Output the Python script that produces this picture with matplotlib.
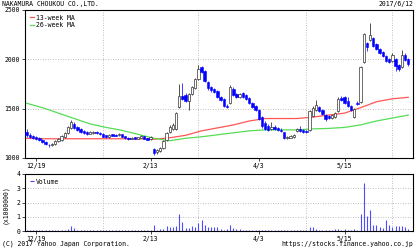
import numpy as np
import matplotlib
matplotlib.use("Agg")
import matplotlib.pyplot as plt

# daily candles, values (yen)
opens = [1260, 1235, 1225, 1215, 1205, 1185, 1165, 1135, 1130, 1140,
         1170, 1185, 1210, 1250, 1300, 1345, 1310, 1290, 1275, 1265,
         1245, 1250, 1265, 1255, 1245, 1230, 1210, 1240, 1235, 1230,
         1240, 1220, 1205, 1195, 1210, 1195, 1205, 1220, 1200, 1190,
         1090, 1060, 1070, 1100, 1180, 1260, 1290, 1290, 1520, 1630,
         1640, 1580, 1650, 1710, 1800, 1920, 1880, 1770, 1720, 1700,
         1680, 1620, 1600, 1530, 1560, 1700, 1650, 1620, 1660, 1640,
         1610, 1560, 1530, 1490, 1420, 1350, 1320, 1290, 1310, 1300,
         1285, 1260, 1200, 1205, 1215, 1270, 1290, 1280, 1275, 1280,
         1430, 1490, 1520, 1490, 1440, 1430, 1410, 1420, 1480, 1610,
         1620, 1580, 1530, 1420, 1560, 1570, 1970, 2170, 2200, 2220,
         2160, 2100, 2070, 2030, 2000, 1980, 2000, 1940, 1920, 2040,
         2000]
highs = [1290, 1250, 1235, 1225, 1210, 1190, 1170, 1145, 1150, 1185,
         1200, 1230, 1260, 1320, 1390, 1365, 1320, 1300, 1280, 1270,
         1270, 1275, 1275, 1265, 1250, 1235, 1240, 1245, 1240, 1250,
         1245, 1225, 1210, 1215, 1215, 1215, 1230, 1225, 1205, 1225,
         1100, 1090, 1110, 1180, 1265, 1335, 1355, 1470, 1750, 1760,
         1660, 1660, 1730, 1810, 1945, 1935, 1890, 1780, 1730, 1710,
         1690, 1630, 1610, 1545, 1740, 1720, 1660, 1660, 1670, 1650,
         1620, 1570, 1540, 1500, 1430, 1370, 1340, 1360, 1330, 1310,
         1300, 1265, 1225, 1235, 1240, 1300, 1320, 1290, 1285, 1490,
         1530, 1590, 1530, 1500, 1450, 1440, 1450, 1470, 1620, 1630,
         1630, 1620, 1540, 1510, 1580, 1930, 2270, 2180, 2370, 2230,
         2170, 2110, 2080, 2040, 2010, 2060, 2010, 1950, 2090, 2060,
         2010]
lows = [1215, 1205, 1195, 1185, 1170, 1150, 1130, 1115, 1120, 1135,
        1160, 1175, 1200, 1240, 1290, 1295, 1270, 1255, 1245, 1235,
        1240, 1240, 1245, 1230, 1210, 1200, 1205, 1220, 1220, 1225,
        1210, 1190, 1185, 1190, 1190, 1190, 1200, 1190, 1180, 1180,
        1030, 1045, 1060, 1090, 1175, 1250, 1280, 1280, 1510, 1590,
        1570, 1490, 1640, 1700, 1790, 1860, 1770, 1690, 1670, 1660,
        1610, 1580, 1515, 1505, 1550, 1630, 1610, 1610, 1610, 1590,
        1550, 1510, 1480, 1390, 1300, 1280, 1270, 1280, 1280, 1270,
        1260, 1190, 1195, 1200, 1205, 1265, 1260, 1255, 1255, 1270,
        1420, 1480, 1470, 1440, 1370, 1400, 1400, 1410, 1470, 1580,
        1550, 1520, 1480, 1410, 1540, 1560, 1960, 2080, 2190, 2120,
        2090, 2050, 2020, 1970, 1960, 1970, 1880, 1880, 1910, 1980,
        1930]
closes = [1230, 1215, 1205, 1195, 1180, 1160, 1140, 1130, 1140, 1175,
          1190, 1220, 1250, 1310, 1360, 1305, 1280, 1265, 1255, 1245,
          1260, 1265, 1250, 1240, 1215, 1210, 1230, 1225, 1228, 1242,
          1215, 1200, 1195, 1205, 1195, 1210, 1220, 1195, 1185, 1215,
          1055, 1080, 1100, 1170, 1250, 1310, 1330, 1460, 1630, 1600,
          1580, 1650, 1720, 1800, 1900, 1870, 1780, 1710, 1690, 1670,
          1620, 1590, 1530, 1520, 1720, 1640, 1620, 1650, 1620, 1600,
          1560, 1520, 1490, 1400, 1320, 1290, 1280, 1310, 1290, 1280,
          1270, 1200, 1215, 1225, 1230, 1290, 1270, 1265, 1260, 1480,
          1510, 1540, 1480, 1450, 1400, 1410, 1440, 1460, 1600, 1590,
          1560, 1530, 1490, 1500, 1550, 1920, 2260, 2130, 2250, 2140,
          2100, 2060, 2030, 1980, 1970, 2040, 1930, 1900, 2040, 1990,
          1950]

# volume in millions of shares
volume = [0.08, 0.06, 0.07, 0.05, 0.06, 0.07, 0.08, 0.06, 0.05, 0.07,
          0.08, 0.09, 0.10, 0.15, 0.35, 0.20, 0.10, 0.08, 0.06, 0.07,
          0.05, 0.06, 0.08, 0.06, 0.05, 0.04, 0.06, 0.05, 0.06, 0.05,
          0.04, 0.06, 0.05, 0.07, 0.05, 0.06, 0.05, 0.07, 0.06, 0.08,
          0.42, 0.10, 0.12, 0.15, 0.35, 0.30, 0.30, 0.35, 1.20, 0.65,
          0.20, 0.20, 0.35, 0.30, 0.55, 0.80, 0.40, 0.30, 0.30, 0.30,
          0.25, 0.12, 0.10, 0.15, 0.45, 0.18, 0.15, 0.12, 0.10, 0.08,
          0.10, 0.08, 0.07, 0.10, 0.10, 0.08, 0.10, 0.07, 0.06, 0.07,
          0.06, 0.08, 0.06, 0.05, 0.06, 0.05, 0.06, 0.05, 0.07, 0.25,
          0.28, 0.12, 0.10, 0.08, 0.08, 0.07, 0.10, 0.15, 0.15, 0.10,
          0.12, 0.10, 0.08, 0.12, 0.10, 1.20, 3.40, 1.05, 1.50, 0.40,
          0.45, 0.25, 0.20, 0.80, 0.40, 0.30, 0.35, 0.35, 0.35, 0.30,
          0.15]

# moving averages, read every 5 trading days
ma_days = list(range(0, 121, 5))
ma13 = [1200, 1195, 1195, 1195, 1195, 1195, 1195, 1195, 1190, 1205,
        1230, 1275, 1305, 1335, 1375, 1400, 1400, 1400, 1415, 1435,
        1455, 1510, 1570, 1600, 1615]
ma26 = [1555, 1510, 1455, 1400, 1345, 1310, 1280, 1240, 1200, 1175,
        1200, 1215, 1235, 1255, 1275, 1285, 1285, 1285, 1295, 1300,
        1310, 1335, 1375, 1405, 1435]

tick_days = [3, 39, 73, 100]
tick_labels = ["12/19", "2/13", "4/3", "5/15"]
grid_days = [3, 24, 39, 54, 73, 88, 100, 115]

plt.rcParams["font.family"] = "DejaVu Sans Mono"
plt.rcParams["font.size"] = 4.7

W, H = 416, 250
fig = plt.figure(figsize=(W / 100, H / 100), dpi=100)
ax = fig.add_axes([25 / W, 1 - 158 / H, 388 / W, 148 / H])
axv = fig.add_axes([25 / W, 1 - 231 / H, 388 / W, 57 / H])

o = np.array(opens)
hi = np.array(highs)
lo = np.array(lows)
c = np.array(closes)
days = np.arange(len(c))
up = c >= o

ax.plot(ma_days, ma13, color="#ff5555", lw=0.9, label="13-week MA", zorder=2)
ax.plot(ma_days, ma26, color="#55dd55", lw=0.9, label="26-week MA", zorder=2)
ax.vlines(days[up], lo[up], hi[up], color="#333333", lw=0.6, zorder=3)
ax.vlines(days[~up], lo[~up], hi[~up], color="#2222ff", lw=0.6, zorder=3)
ax.bar(days[up], np.maximum(c[up] - o[up], 3), bottom=o[up], width=0.75,
       color="white", edgecolor="#333333", linewidth=0.5, zorder=4)
ax.bar(days[~up], np.maximum(o[~up] - c[~up], 3), bottom=c[~up], width=0.75,
       color="#0000ff", edgecolor="#0000ff", linewidth=0.4, zorder=4)

ax.set_ylim(1000, 2500)
ax.set_yticks(range(1000, 2501, 500))
ax.legend(loc="upper left", frameon=False, handlelength=0.7,
          handletextpad=0.3, borderaxespad=0.3, labelspacing=0.25)

axv.vlines(days, 0, volume, color="#4d4dff", lw=0.8, label="Volume")
axv.set_ylim(0, 4)
axv.set_yticks(range(0, 5))
axv.legend(loc="upper left", frameon=False, handlelength=0.7,
           handletextpad=0.3, borderaxespad=0.3)

for a in (ax, axv):
    a.set_xlim(-0.5, len(c) + 0.5)
    a.set_xticks(tick_days)
    a.set_xticklabels(tick_labels)
    a.set_xticks(grid_days, minor=True)
    a.tick_params(which="both", length=2, width=0.5, pad=1.5)
    a.tick_params(which="minor", length=0)
    a.grid(which="minor", axis="x", color="#aaaaaa", ls=(0, (1, 2)), lw=0.6)
    a.grid(which="major", axis="y", color="#aaaaaa", ls=(0, (1, 2)), lw=0.6)
    a.set_axisbelow(True)
    for s in a.spines.values():
        s.set_linewidth(0.8)

fig.text(2 / W, 1 - 4 / H, "NAKAMURA CHOUKOU CO.,LTD.", ha="left", va="center")
fig.text(413 / W, 1 - 4 / H, "2017/6/12", ha="right", va="center")
fig.text(5 / W, 1 - 205 / H, "(x1000000)", rotation=90, ha="center", va="center")
fig.text(2 / W, 1 - 244 / H, "(C) 2017 Yahoo Japan Corporation.", ha="left", va="center")
fig.text(413 / W, 1 - 244 / H, "https://stocks.finance.yahoo.co.jp", ha="right", va="center")

fig.savefig("out.png", dpi=100)
